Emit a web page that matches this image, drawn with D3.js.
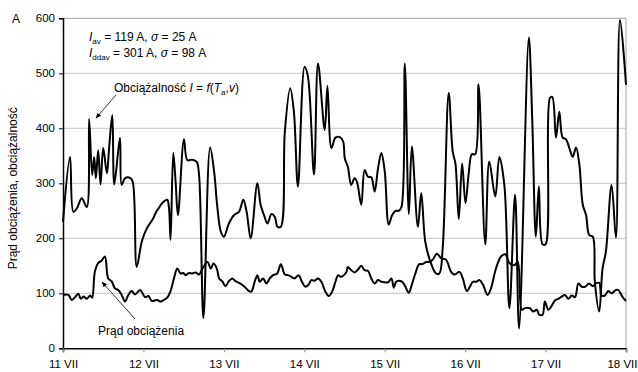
<!DOCTYPE html>
<html>
<head>
<meta charset="utf-8">
<script src="https://cdn.jsdelivr.net/npm/d3@7"></script>
<style>
  html, body { margin: 0; padding: 0; background: #fff; }
  svg { display: block; font-family: "Liberation Sans", Arial, sans-serif; }
</style>
</head>
<body>
<svg id="chart" width="638" height="372"></svg>
<script>
// Hours since 11 VII 00:00 and current in amperes
const capacityHours = [0, 2.1, 3.1, 4.2, 5.6, 7.1, 7.8, 8.7, 9.3, 9.8, 10.5, 11.2, 12.0, 13.1, 13.7, 14.7, 15.3, 17.0, 17.5, 18.5, 20.0, 20.8, 22.0, 23.5, 25.0, 26.9, 27.8, 28.6, 29.6, 31.1, 31.6, 32.1, 32.9, 33.6, 34.3, 36.1, 37.1, 38.6, 39.9, 40.6, 41.9, 43.9, 45.1, 46.0, 47.1, 48.0, 49.5, 51.0, 52.5, 53.8, 54.8, 56.0, 58.0, 59.0, 60.0, 61.0, 62.2, 63.2, 64.0, 65.0, 66.2, 67.8, 68.9, 70.1, 72.1, 73.1, 74.9, 76.1, 78.1, 78.9, 80.1, 81.3, 82.6, 83.6, 84.1, 85.0, 86.0, 87.0, 87.7, 89.0, 90.0, 91.0, 92.0, 93.0, 94.0, 95.0, 96.0, 97.2, 98.2, 99.2, 100.2, 101.0, 102.0, 103.2, 104.1, 105.9, 106.9, 108.1, 109.6, 111.3, 112.3, 113.3, 115.1, 116.3, 117.1, 118.1, 119.1, 120.1, 121.1, 122.0, 123.0, 124.0, 126.0, 127.2, 129.0, 130.2, 131.7, 133.2, 134.9, 136.1, 139.0, 140.0, 141.1, 142.0, 143.1, 144.0, 145.3, 146.0, 147.1, 148.1, 149.1, 150.1, 151.1, 152.1, 153.1, 154.1, 155.1, 156.1, 157.0, 158.1, 158.7, 160.0, 161.0, 162.0, 163.7, 165.0, 166.2, 168.0];
const capacityValues = [230, 348, 248, 255, 273, 257, 417, 315, 348, 309, 360, 298, 364, 318, 359, 424, 298, 383, 297, 309, 310, 303, 148, 194, 218, 236, 248, 255, 264, 270, 257, 197, 355, 303, 242, 380, 342, 343, 339, 315, 55, 365, 321, 260, 212, 203, 227, 242, 248, 270, 248, 200, 300, 260, 242, 227, 244, 239, 221, 221, 394, 473, 430, 294, 512, 494, 316, 518, 397, 477, 364, 383, 384, 376, 345, 330, 297, 309, 303, 261, 324, 312, 311, 285, 327, 355, 322, 225, 242, 250, 250, 257, 518, 244, 367, 221, 282, 194, 158, 136, 136, 182, 464, 357, 336, 235, 336, 264, 320, 353, 353, 480, 189, 339, 276, 348, 297, 73, 279, 36, 565, 420, 203, 294, 189, 189, 455, 457, 383, 430, 383, 380, 364, 348, 365, 333, 261, 242, 206, 203, 121, 67, 145, 176, 297, 201, 597, 479];

const loadHours = [0, 1.6, 2.6, 3.6, 4.6, 5.3, 6.1, 7.1, 8.1, 8.7, 9.5, 10.5, 11.5, 12.5, 13.5, 14.5, 15.5, 16.5, 17.5, 18.5, 19.5, 20.5, 21.5, 23.0, 24.5, 25.5, 26.5, 28.0, 29.2, 30.1, 31.1, 32.1, 33.1, 34.1, 35.1, 35.9, 36.6, 37.6, 38.6, 39.6, 40.6, 41.6, 43.1, 44.1, 44.9, 45.9, 46.6, 47.5, 48.5, 49.5, 50.5, 51.5, 52.8, 54.0, 55.5, 56.2, 57.2, 58.0, 58.7, 59.7, 60.7, 61.7, 62.7, 63.9, 65.0, 66.2, 67.1, 68.1, 69.1, 70.3, 71.3, 72.3, 73.3, 74.1, 75.1, 76.1, 77.1, 78.3, 79.3, 80.3, 81.3, 82.1, 82.9, 83.8, 84.6, 85.0, 86.0, 87.0, 88.0, 89.0, 90.0, 91.0, 92.0, 93.0, 94.0, 95.0, 96.0, 97.0, 98.0, 98.7, 99.4, 100.2, 101.2, 102.1, 103.2, 104.1, 105.3, 106.3, 107.3, 108.3, 109.3, 110.3, 111.6, 112.8, 114.3, 115.8, 116.8, 118.3, 119.3, 120.5, 121.5, 122.3, 123.3, 124.3, 125.3, 126.7, 127.7, 129.2, 130.7, 132.0, 133.2, 134.7, 135.7, 136.9, 137.9, 139.3, 140.3, 141.4, 142.1, 143.1, 143.8, 144.8, 145.8, 146.8, 147.8, 148.8, 149.8, 150.8, 151.8, 152.8, 153.8, 154.8, 155.8, 157.0, 158.1, 159.0, 160.0, 160.7, 161.7, 162.7, 163.7, 165.0, 165.7, 167.0, 168.0];
const loadValues = [97, 97, 88, 93, 99, 90, 94, 90, 96, 92, 139, 155, 159, 167, 127, 122, 109, 106, 97, 85, 97, 104, 98, 106, 93, 95, 86, 88, 85, 88, 92, 104, 127, 145, 136, 137, 133, 137, 136, 138, 134, 145, 157, 145, 154, 145, 127, 122, 113, 122, 127, 122, 118, 113, 104, 103, 121, 133, 121, 127, 118, 127, 133, 136, 153, 134, 133, 130, 127, 133, 121, 112, 116, 124, 123, 127, 121, 103, 95, 103, 121, 133, 130, 133, 139, 148, 142, 138, 143, 150, 142, 141, 127, 118, 124, 121, 120, 120, 127, 110, 121, 123, 121, 113, 101, 116, 139, 153, 153, 157, 157, 161, 172, 164, 161, 139, 134, 139, 127, 104, 113, 121, 121, 124, 116, 97, 109, 145, 167, 171, 155, 151, 157, 70, 73, 73, 67, 70, 61, 61, 85, 70, 77, 87, 90, 94, 97, 90, 96, 93, 118, 112, 112, 118, 113, 118, 119, 96, 96, 104, 100, 106, 106, 93, 86];

const dayLabels = ["11 VII", "12 VII", "13 VII", "14 VII", "15 VII", "16 VII", "17 VII", "18 VII"];
const yTicks = [0, 100, 200, 300, 400, 500, 600];

const svg = d3.select("#chart");
const plotLeft = 63, plotRight = 626, plotTop = 18.3, plotBottom = 348.3;

const x = d3.scaleLinear().domain([0, 168]).range([plotLeft, plotRight]);
const y = d3.scaleLinear().domain([0, 600]).range([plotBottom, plotTop]);

// horizontal gridlines
svg.append("g")
  .selectAll("line")
  .data(yTicks.filter(d => d > 0))
  .join("line")
  .attr("x1", plotLeft).attr("x2", plotRight)
  .attr("y1", d => y(d)).attr("y2", d => y(d))
  .attr("stroke", d => d === 600 ? "#a0a0a0" : "#c4c4c4")
  .attr("stroke-width", 1);

// right frame edge
svg.append("line")
  .attr("x1", plotRight).attr("x2", plotRight)
  .attr("y1", plotTop).attr("y2", plotBottom)
  .attr("stroke", "#a0a0a0");

// y axis
const yAxis = d3.axisLeft(y).tickValues(yTicks).tickSize(4).tickPadding(4);
const gy = svg.append("g").attr("transform", `translate(${plotLeft},0)`).call(yAxis);
gy.select(".domain").attr("stroke", "#000").attr("stroke-width", 1.5);
gy.selectAll(".tick line").attr("stroke", "#000");
gy.selectAll(".tick text").attr("font-size", 11.5).attr("fill", "#000")
  .attr("font-family", "'Liberation Sans', Arial, sans-serif");

// x axis
const xAxis = d3.axisBottom(x)
  .tickValues(dayLabels.map((d, i) => i * 24))
  .tickFormat((d, i) => dayLabels[i])
  .tickSize(4).tickPadding(8);
const gx = svg.append("g").attr("transform", `translate(0,${plotBottom})`).call(xAxis);
gx.select(".domain").attr("stroke", "#000").attr("stroke-width", 1.5);
gx.selectAll(".tick line").attr("stroke", "#888");
gx.selectAll(".tick text").attr("font-size", 11.5).attr("fill", "#000")
  .attr("font-family", "'Liberation Sans', Arial, sans-serif");
// keep the last day label inside the frame
gx.selectAll(".tick text").filter((d, i, n) => i === n.length - 1)
  .attr("text-anchor", "end").attr("dx", 11);

// series lines
const line = d3.line()
  .x(d => x(d[0]))
  .y(d => y(d[1]))
  .curve(d3.curveCatmullRom.alpha(0.5));

const capacity = capacityHours.map((h, i) => [h, capacityValues[i]]);
const load = loadHours.map((h, i) => [h, loadValues[i]]);

svg.append("path").datum(load)
  .attr("d", line).attr("fill", "none")
  .attr("stroke", "#000").attr("stroke-width", 2)
  .attr("stroke-linejoin", "round");

svg.append("path").datum(capacity)
  .attr("d", line).attr("fill", "none")
  .attr("stroke", "#000").attr("stroke-width", 2)
  .attr("stroke-linejoin", "round");

// unit label and axis title
svg.append("text").attr("x", 12).attr("y", 22.5)
  .attr("font-size", 12).text("A");

svg.append("text")
  .attr("transform", `translate(17,${(plotTop + plotBottom) / 2 + 5}) rotate(-90)`)
  .attr("text-anchor", "middle").attr("font-size", 12)
  .text("Prąd obciążenia, obciążalność");

// statistics
const stats = svg.append("g").attr("font-size", 12);
const s1 = stats.append("text").attr("x", 89).attr("y", 41);
s1.append("tspan").attr("font-style", "italic").text("I");
s1.append("tspan").attr("font-size", 8).attr("dy", 3).text("av");
s1.append("tspan").attr("dy", -3).text(" = 119 A, ");
s1.append("tspan").attr("font-style", "italic").text("σ");
s1.append("tspan").text(" = 25 A");

const s2 = stats.append("text").attr("x", 89).attr("y", 57);
s2.append("tspan").attr("font-style", "italic").text("I");
s2.append("tspan").attr("font-size", 8).attr("dy", 3).text("ddav");
s2.append("tspan").attr("dy", -3).text(" = 301 A, ");
s2.append("tspan").attr("font-style", "italic").text("σ");
s2.append("tspan").text(" = 98 A");

// series annotations with arrows
const defs = svg.append("defs");
defs.append("marker")
  .attr("id", "arrow").attr("viewBox", "0 0 10 10")
  .attr("refX", 9).attr("refY", 5)
  .attr("markerWidth", 7).attr("markerHeight", 7)
  .attr("orient", "auto-start-reverse")
  .append("path").attr("d", "M0,1 L10,5 L0,9 Z").attr("fill", "#000");

const a1 = svg.append("text").attr("x", 114).attr("y", 92).attr("font-size", 12);
a1.append("tspan").text("Obciążalność ");
a1.append("tspan").attr("font-style", "italic").text("I");
a1.append("tspan").text(" = ");
a1.append("tspan").attr("font-style", "italic").text("f");
a1.append("tspan").text("(");
a1.append("tspan").attr("font-style", "italic").text("T");
a1.append("tspan").attr("font-size", 8).attr("dy", 3).text("a");
a1.append("tspan").attr("dy", -3).text(",");
a1.append("tspan").attr("font-style", "italic").text("v");
a1.append("tspan").text(")");

svg.append("line")
  .attr("x1", 116).attr("y1", 95).attr("x2", 96).attr("y2", 118)
  .attr("stroke", "#000").attr("stroke-width", 0.8)
  .attr("marker-end", "url(#arrow)");

svg.append("text").attr("x", 98).attr("y", 335).attr("font-size", 12)
  .text("Prąd obciążenia");

svg.append("line")
  .attr("x1", 135).attr("y1", 319).attr("x2", 102).attr("y2", 282)
  .attr("stroke", "#000").attr("stroke-width", 0.8)
  .attr("marker-end", "url(#arrow)");
</script>
</body>
</html>
